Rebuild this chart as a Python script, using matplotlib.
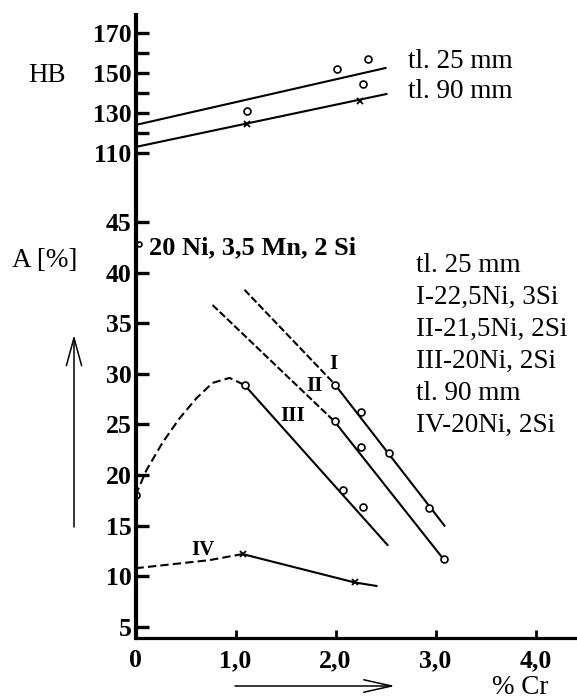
import numpy as np
import matplotlib.pyplot as plt

plt.rcParams['font.family'] = ['Liberation Serif', 'DejaVu Serif']

# HB, upper part (left scale in HB units)
hb25_x = [0.0, 2.50]
hb25_y = [124, 152.5]
hb90_x = [0.0, 2.51]
hb90_y = [113, 139.5]
hb_circ_x = [1.11, 2.01, 2.32, 2.27]
hb_circ_y = [131, 152, 157, 144.5]
hb_cross_x = [1.11, 2.24]
hb_cross_y = [124.7, 136]

# A [%], lower part
I_dash_x = [1.09, 1.99]
I_dash_y = [38.3, 29.0]
I_x = [1.99, 3.09]
I_y = [29.0, 15.0]
I_pts_x = [1.99, 2.25, 2.53, 2.93]
I_pts_y = [28.9, 26.2, 22.2, 16.7]

II_dash_x = [0.77, 1.99]
II_dash_y = [36.8, 25.3]
II_x = [1.99, 3.08]
II_y = [25.3, 11.7]
II_pts_x = [1.99, 2.25, 3.08]
II_pts_y = [25.3, 22.8, 11.7]

III_dash_x = [0.0, 0.11, 0.27, 0.44, 0.61, 0.77, 0.94, 1.09]
III_dash_y = [18.0, 20.5, 23.2, 25.6, 27.6, 29.1, 29.6, 28.9]
III_x = [1.09, 2.52]
III_y = [28.9, 13.1]
III_pts_x = [0.0, 1.09, 2.07, 2.27]
III_pts_y = [18.0, 28.9, 18.5, 16.8]

IV_dash_x = [0.0, 0.74, 1.07]
IV_dash_y = [10.8, 11.6, 12.2]
IV_x = [1.07, 2.19, 2.41]
IV_y = [12.2, 9.4, 9.05]
IV_pts_x = [1.07, 2.19]
IV_pts_y = [12.2, 9.4]

a_ticks = [5, 10, 15, 20, 25, 30, 35, 40, 45]
hb_ticks = [110, 120, 130, 140, 150, 160, 170]
hb_labels = ['110', '', '130', '', '150', '', '170']
x_ticks = [0, 1, 2, 3, 4]
x_labels = ['0', '1,0', '2,0', '3,0', '4,0']

W, H = 577, 700
fig = plt.figure(figsize=(W / 100, H / 100), dpi=100)
ax = fig.add_axes([135.5 / W, 1 - 638 / H, (W - 135.5) / W, 623 / H])
ax.set_xlim(0, (W - 135.5) / 100)
ax.set_ylim(3.91, 65.44)

ax2 = ax.twinx()
ax2.set_ylim(-132.5, 179)
for s in ax2.spines.values():
    s.set_visible(False)

ax.spines['top'].set_visible(False)
ax.spines['right'].set_visible(False)
ax.spines['left'].set_linewidth(3.0)
ax.spines['bottom'].set_linewidth(2.3)

lw = 1.5
dash3 = (0, (4, 2))
dash12 = (0, (3.5, 1.3))
circ = dict(marker='o', ms=5, mfc='white', mec='black', mew=1.2, ls='none')
cross = dict(marker='x', ms=4, mec='black', mew=1.3, ls='none')

# HB lines
ax2.plot(hb25_x, hb25_y, color='black', lw=lw)
ax2.plot(hb90_x, hb90_y, color='black', lw=lw)
ax2.plot(hb_circ_x, hb_circ_y, **circ)
ax2.plot(hb_cross_x, hb_cross_y, **cross)

# A lines
ax.plot(I_dash_x, I_dash_y, color='black', lw=lw, ls=dash12)
ax.plot(I_x, I_y, color='black', lw=lw)
ax.plot(I_pts_x, I_pts_y, **circ)
ax.plot(II_dash_x, II_dash_y, color='black', lw=lw, ls=dash12)
ax.plot(II_x, II_y, color='black', lw=lw)
ax.plot(II_pts_x, II_pts_y, **circ)
ax.plot(III_dash_x, III_dash_y, color='black', lw=lw, ls=dash3)
ax.plot(III_x, III_y, color='black', lw=lw)
ax.plot(III_pts_x, III_pts_y, **circ)
ax.plot(IV_dash_x, IV_dash_y, color='black', lw=lw, ls=dash3)
ax.plot(IV_x, IV_y, color='black', lw=lw)
ax.plot(IV_pts_x, IV_pts_y, **cross)
ax.plot([0.03], [42.8], clip_on=False, **dict(circ, ms=3.5))

# roman numeral labels on curves
for lab, x, y in [('I', 1.98, 31.0), ('II', 1.79, 28.8), ('III', 1.57, 25.8), ('IV', 0.67, 12.6)]:
    ax.text(x, y, lab, fontsize=15, fontweight='bold', ha='center', va='center')

# ticks
ax.set_yticks(a_ticks)
ax.set_yticklabels([str(t) for t in a_ticks], fontsize=18.5, fontweight='bold')
ax.set_xticks(x_ticks)
ax.set_xticklabels(x_labels, fontsize=18.5, fontweight='bold')
ax.tick_params(axis='y', direction='in', length=9, width=2.4, pad=3)
ax.tick_params(axis='x', direction='in', length=6, width=2.0, pad=8)
ax2.yaxis.tick_left()
ax2.set_yticks(hb_ticks)
ax2.set_yticklabels(hb_labels, fontsize=18.5, fontweight='bold')
ax2.tick_params(axis='y', direction='in', length=9, width=2.4, pad=3)


def ftext(x, y, s, **kw):
    fig.text(x / W, 1 - y / H, s, va='center', ha='left', **kw)


ftext(28, 75, 'HB', fontsize=19.5)
ftext(408, 61, 'tl. 25 mm', fontsize=19.5)
ftext(408, 92, 'tl. 90 mm', fontsize=19.5)
ftext(12, 261, 'A [%]', fontsize=19.5)
ftext(149, 248, '20 Ni, 3,5 Mn, 2 Si', fontsize=19, fontweight='bold')
right_block = ['tl. 25 mm', 'I-22,5Ni, 3Si', 'II-21,5Ni, 2Si', 'III-20Ni, 2Si',
               'tl. 90 mm', 'IV-20Ni, 2Si']
for i, s in enumerate(right_block):
    ftext(416, 265 + 32 * i, s, fontsize=19.5)
ftext(492, 687, '% Cr', fontsize=19.5)

# arrows
ax.annotate('', xy=(74, H - 335), xycoords='figure pixels',
            xytext=(74, H - 527), textcoords='figure pixels',
            arrowprops=dict(arrowstyle='->,head_length=2.0,head_width=0.55', lw=1.1,
                            color='black', shrinkA=0, shrinkB=0),
            annotation_clip=False)
ax.annotate('', xy=(395, H - 686), xycoords='figure pixels',
            xytext=(235, H - 686), textcoords='figure pixels',
            arrowprops=dict(arrowstyle='->,head_length=2.0,head_width=0.45', lw=1.1,
                            color='black', shrinkA=0, shrinkB=0),
            annotation_clip=False)

fig.savefig('out.png', dpi=100)
